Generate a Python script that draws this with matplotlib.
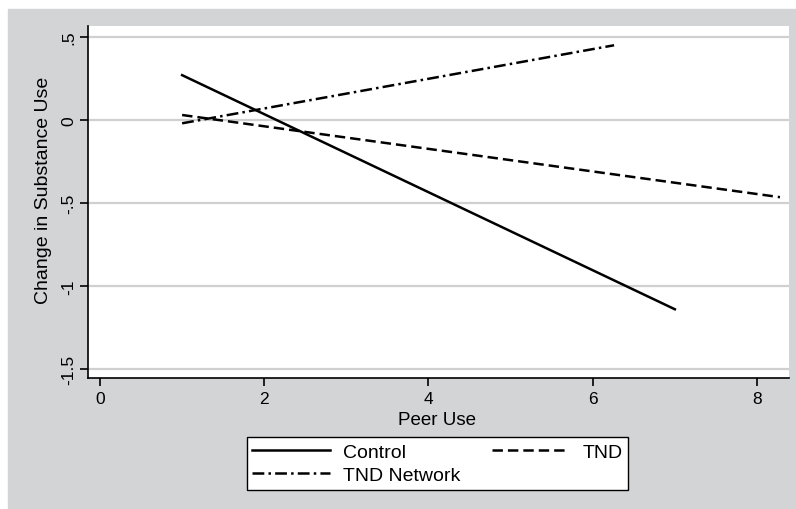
import matplotlib
matplotlib.use("Agg")
import matplotlib.pyplot as plt
from matplotlib.patches import Rectangle

plt.rcParams['font.family'] = ['Liberation Sans', 'DejaVu Sans']
plt.rcParams['lines.scale_dashes'] = False

# fitted lines (start / end points)
control_x = [1, 7]
control_y = [0.27, -1.14]
tnd_x = [1, 8.28]
tnd_y = [0.03, -0.465]
net_x = [1, 6.26]
net_y = [-0.02, 0.45]

xticks = [0, 2, 4, 6, 8]
yticks = [-1.5, -1, -0.5, 0, 0.5]
ylabels = ["-1.5", "-1", "-.5", "0", ".5"]

W, H = 796, 510
fig = plt.figure(figsize=(W / 100, H / 100), dpi=100)
fig.patch.set_facecolor("white")
bg = "#d3d4d6"
fig.patches.append(Rectangle((8 / W, 0), 1 - 8 / W, 1 - 10 / H,
                             transform=fig.transFigure, color=bg, zorder=-10))

ax = fig.add_axes([88 / W, 1 - 379 / H, (789 - 88) / W, (379 - 27) / H])
ax.set_facecolor("white")

for y in yticks:
    ax.axhline(y, color="#d0d0d0", lw=1.6, zorder=1)

l1, = ax.plot(control_x, control_y, color="black", lw=1.8, label="Control", zorder=3)
l2, = ax.plot(tnd_x, tnd_y, color="black", lw=1.8, linestyle=(0, (7.5, 3.6)),
              label="TND", zorder=3)
l3, = ax.plot(net_x, net_y, color="black", lw=1.8,
              linestyle=(0, (8.5, 3, 1.8, 3)), label="TND Network", zorder=3)

ax.set_xlim(-0.146, 8.39)
ax.set_ylim(-1.554, 0.566)
ax.set_xticks(xticks)
ax.set_yticks(yticks)
ax.set_yticklabels(ylabels, rotation=90, va="center")
ax.tick_params(direction="out", length=6, width=1.2, labelsize=12.5,
               colors="black")
ax.tick_params(axis="x", pad=3.5)
ax.tick_params(axis="y", pad=2.5)

for s in ["top", "right"]:
    ax.spines[s].set_visible(False)
for s in ["left", "bottom"]:
    ax.spines[s].set_linewidth(1.2)

fig.text(437 / W, 1 - 421 / H, "Peer Use", fontsize=13.5, ha="center", va="center")
fig.text(44 / W, 1 - 190 / H, "Change in Substance Use", fontsize=14,
         rotation=90, ha="center", va="center")

leg = fig.legend([l1, l3, l2], ["Control", "TND Network", "TND"],
                 loc="center", bbox_to_anchor=(437.5 / W, 1 - 464.5 / H), ncol=2,
                 fontsize=14, frameon=True, fancybox=False, handlelength=4.0,
                 columnspacing=1.6, handletextpad=0.67, borderpad=0.3,
                 labelspacing=0.3, borderaxespad=0, framealpha=1)
leg.get_frame().set_edgecolor("black")
leg.get_frame().set_facecolor("white")
leg.get_frame().set_linewidth(1.0)

fig.savefig("out.png", dpi=100)
